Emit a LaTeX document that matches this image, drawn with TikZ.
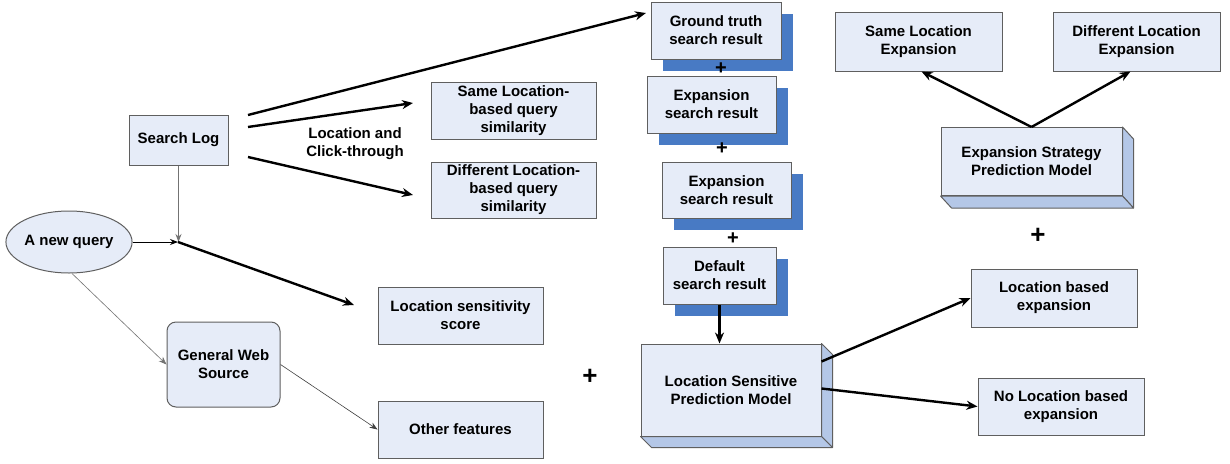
\documentclass[tikz,border=0pt]{standalone}
\usepackage{fontspec}
\setmainfont{Liberation Sans}
\usetikzlibrary{arrows.meta,calc,shadows,shapes.geometric}
\definecolor{boxfill}{RGB}{230,236,248}
\definecolor{boxline}{RGB}{95,95,95}
\definecolor{shadowblue}{RGB}{72,122,196}
\definecolor{sideblue}{RGB}{180,199,231}
\begin{document}
\begin{tikzpicture}[x=1pt,y=-1pt,
  lbl/.style={font=\fontsize{15}{18}\selectfont\bfseries, align=center, inner sep=0pt},
  box/.style={lbl, draw=boxline, fill=boxfill, line width=1pt},
  shadowed/.style={drop shadow={shadow xshift=12pt,shadow yshift=-12pt,fill=shadowblue,opacity=1}},
  side/.style={draw=boxline, fill=sideblue, line width=1pt, line join=round},
  plus/.style={font=\fontsize{20}{20}\selectfont\bfseries, inner sep=0pt},
  bigplus/.style={font=\fontsize{26}{26}\selectfont\bfseries, inner sep=0pt},
  thickarrow/.style={line width=2.4pt, -{Stealth[length=11pt,width=9pt]}},
  thinarrow/.style={line width=0.8pt, -{Stealth[length=8pt,width=6pt]}},
  grayarrow/.style={line width=0.9pt, draw=black!55, -{Stealth[length=8pt,width=6pt]}},
]
\useasboundingbox[fill=white] (0,0) rectangle (1230,463);

% left side: sources
\node[box, minimum width=99pt, minimum height=50pt] (sl) at (178.5,140) {Search Log};
\node[lbl, draw=boxline, fill=boxfill, line width=1pt, ellipse, minimum width=120pt, minimum height=62pt] (nq) at (69,242) {A new query};
\node[box, rounded corners=9pt, minimum width=113pt, minimum height=85pt] (gws) at (223.5,364.5) {General Web\\Source};
\node[lbl] (lc) at (355,144) {Location and\\Click-through};

% features
\node[box, minimum width=165pt, minimum height=57pt] (sameq) at (513.5,110.5) {Same Location-\\based query\\similarity};
\node[box, minimum width=165pt, minimum height=56pt] (diffq) at (513.5,190) {Different Location-\\based query\\similarity};
\node[box, minimum width=165pt, minimum height=57pt] (lss) at (460.5,315.5) {Location sensitivity\\score};
\node[box, minimum width=165pt, minimum height=57pt] (of) at (460.5,429.5) {Other features};

% search result stack
\node[box, shadowed, minimum width=130pt, minimum height=57pt] (gt) at (716,30.5) {Ground truth\\search result};
\node[box, shadowed, minimum width=129pt, minimum height=57pt] (ex1) at (711.5,104.5) {Expansion\\search result};
\node[box, shadowed, minimum width=129pt, minimum height=56pt] (ex2) at (726.5,190) {Expansion\\search result};
\node[box, shadowed, minimum width=113pt, minimum height=57pt] (def) at (719.5,275.5) {Default\\search result};
\node[plus] (p1) at (721,69) {+};
\node[plus] (p2) at (722,149) {+};
\node[plus] (p3) at (733,239) {+};
\node[bigplus] (p4) at (590,377) {+};

% location sensitive prediction model (3D box)
\node[box, minimum width=180pt, minimum height=92pt] (lsp) at (731,390) {Location Sensitive\\Prediction Model};
\filldraw[side] (lsp.north east) -- ++(11,11) -- ($(lsp.south east)+(11,11)$) -- (lsp.south east) -- cycle;
\filldraw[side] (lsp.south west) -- (lsp.south east) -- ++(11,11) -- ($(lsp.south west)+(11,11)$) -- cycle;

% expansion strategy prediction model (3D box)
\node[box, minimum width=181pt, minimum height=68pt] (esp) at (1031.5,161.5) {Expansion Strategy\\Prediction Model};
\filldraw[side] (esp.north east) -- ++(11,12) -- ($(esp.south east)+(11,12)$) -- (esp.south east) -- cycle;
\filldraw[side] (esp.south west) -- (esp.south east) -- ++(11,12) -- ($(esp.south west)+(11,12)$) -- cycle;
\node[bigplus] (p5) at (1038,236) {+};

% outcomes
\node[box, minimum width=167pt, minimum height=59pt] (sle) at (918.5,41.5) {Same Location\\Expansion};
\node[box, minimum width=167pt, minimum height=59pt] (dle) at (1136.5,41.5) {Different Location\\Expansion};
\node[box, minimum width=166pt, minimum height=58pt] (lbe) at (1054,298) {Location based\\expansion};
\node[box, minimum width=166pt, minimum height=57pt] (nle) at (1061,406.5) {No Location based\\expansion};

% connector end points
\coordinate (s1) at (248,115);
\coordinate (s2) at (248,127);
\coordinate (s3) at (248,157);
\coordinate (t1) at (646,13);
\coordinate (t2) at (413,103);
\coordinate (t3) at (413,195);
\coordinate (j) at (178,242);
\coordinate (t4) at (354,305);

% connectors
\draw[thickarrow] (s1) -- (t1);
\draw[thickarrow] (s2) -- (t2);
\draw[thickarrow] (s3) -- (t3);
\draw[grayarrow] (sl.south) -- (sl.south |- j);
\draw[thinarrow] (nq.east) -- (j);
\draw[thickarrow] (j) -- (t4);
\draw[grayarrow, line width=0.6pt] ($(nq.south)+(3,0)$) -- (gws.west);
\draw[grayarrow, draw=black!75, line width=0.6pt] (gws.east) -- (of.west);
\draw[thickarrow] (def.south) -- (def.south |- lsp.north);
\draw[thickarrow] ($(lsp.north east)+(0,18)$) -- (lbe.west);
\draw[thickarrow] ($(lsp.north east)+(0,45)$) -- (nle.west);
\draw[thickarrow] (esp.north) -- ($(sle.south)+(3,0)$);
\draw[thickarrow] (esp.north) -- ($(dle.south)+(-6,0)$);
\end{tikzpicture}
\end{document}
